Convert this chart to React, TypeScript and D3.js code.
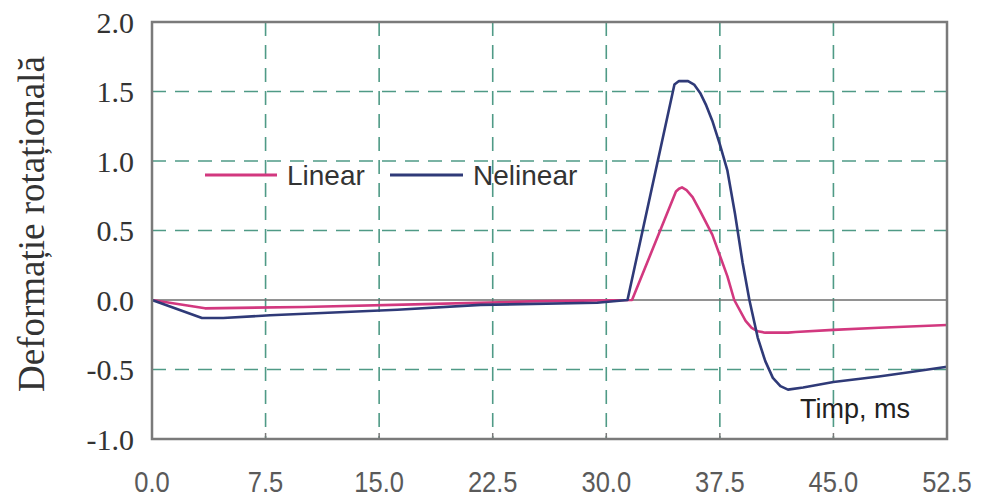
import React from "react";
import * as d3 from "d3";

// time (ms) and rotational strain
const timeLinear = [0, 3.5, 10, 18, 25, 31.7, 34.6, 34.8, 35.0, 35.3, 35.7, 36.2, 37, 38, 38.45, 39.2, 39.6, 40.0, 40.5, 42, 42.5, 45, 48, 52.5];
const valLinear = [0, -0.06, -0.05, -0.03, -0.01, 0, 0.78, 0.8, 0.81, 0.79, 0.74, 0.64, 0.47, 0.17, 0, -0.15, -0.2, -0.225, -0.235, -0.235, -0.23, -0.215, -0.2, -0.18];

const timeNelinear = [0, 3.3, 4.7, 7.8, 16.2, 21.7, 29.4, 31.4, 34.5, 34.8, 35.4, 35.8, 36.2, 36.6, 37, 37.5, 38, 38.5, 39, 39.45, 40, 40.5, 41, 41.5, 42, 43, 45, 48, 50, 52.5];
const valNelinear = [0, -0.13, -0.13, -0.11, -0.07, -0.035, -0.02, 0, 1.55, 1.575, 1.575, 1.55, 1.49, 1.4, 1.29, 1.12, 0.93, 0.62, 0.27, 0, -0.27, -0.44, -0.56, -0.62, -0.645, -0.63, -0.59, -0.55, -0.52, -0.48];

const xTicks = [0, 7.5, 15, 22.5, 30, 37.5, 45, 52.5];
const yTicks = [-1, -0.5, 0, 0.5, 1, 1.5, 2];

const seriesNames = ["Linear", "Nelinear"];
const colors = ["#d2387f", "#2f3a78"];

const W = 981;
const H = 498;
const left = 152, right = 947, top = 22, bottom = 439;

export default function App() {
  const x = d3.scaleLinear().domain([0, 52.5]).range([left, right]);
  const y = d3.scaleLinear().domain([-1, 2]).range([bottom, top]);

  const line = d3
    .line<[number, number]>()
    .x((d) => x(d[0]))
    .y((d) => y(d[1]));

  const linearPts = timeLinear.map((t, i) => [t, valLinear[i]] as [number, number]);
  const nelinearPts = timeNelinear.map((t, i) => [t, valNelinear[i]] as [number, number]);

  const gridColor = "#4f9a86";
  const frameColor = "#7a7a7a";

  return (
    <svg
      width={W}
      height={H}
      style={{ position: "absolute", left: 0, top: 0, background: "#fff" }}
    >
      {/* grid */}
      {xTicks.slice(1, -1).map((t) => (
        <line key={"gx" + t} x1={x(t)} x2={x(t)} y1={top} y2={bottom}
          stroke={gridColor} strokeWidth={1.6} strokeDasharray="14,9" />
      ))}
      {yTicks.slice(1, -1).filter((v) => v !== 0).map((v) => (
        <line key={"gy" + v} x1={left} x2={right} y1={y(v)} y2={y(v)}
          stroke={gridColor} strokeWidth={1.6} strokeDasharray="14,9" />
      ))}
      {/* zero line */}
      <line x1={left} x2={right} y1={y(0)} y2={y(0)} stroke="#6e6e6e" strokeWidth={1.6} />

      {/* bottom tick marks */}
      {xTicks.slice(1, -1).map((t) => (
        <line key={"tk" + t} x1={x(t)} x2={x(t)} y1={bottom} y2={bottom - 6}
          stroke={frameColor} strokeWidth={1.5} />
      ))}

      {/* series */}
      <path d={line(linearPts) || ""} fill="none" stroke={colors[0]} strokeWidth={2.6} strokeLinejoin="round" />
      <path d={line(nelinearPts) || ""} fill="none" stroke={colors[1]} strokeWidth={2.6} strokeLinejoin="round" />

      {/* frame */}
      <rect x={left} y={top} width={right - left} height={bottom - top}
        fill="none" stroke={frameColor} strokeWidth={2.5} />

      {/* y tick labels */}
      {yTicks.map((v) => (
        <text key={"yl" + v} x={134} y={y(v)} dy="0.35em" textAnchor="end"
          fontFamily="'Liberation Serif', 'Times New Roman', serif" fontSize={30} fill="#333">
          {v.toFixed(1)}
        </text>
      ))}

      {/* x tick labels */}
      {xTicks.map((t) => (
        <text key={"xl" + t} x={x(t)} y={492} textAnchor="middle"
          fontFamily="'Liberation Sans', Arial, sans-serif" fontSize={29} fill="#5a5a5a"
          transform={`translate(${x(t)},0) scale(0.88,1) translate(${-x(t)},0)`}>
          {t.toFixed(1)}
        </text>
      ))}

      {/* y axis title */}
      <text transform={`translate(44,${224}) rotate(-90)`} textAnchor="middle"
        fontFamily="'Liberation Serif', 'Times New Roman', serif" fontSize={37} fill="#333">
        Deformație rotațională
      </text>

      {/* legend */}
      <line x1={205} x2={277} y1={175} y2={175} stroke={colors[0]} strokeWidth={3} />
      <text x={287} y={185} fontFamily="'Liberation Sans', Arial, sans-serif" fontSize={28} fill="#333">
        {seriesNames[0]}
      </text>
      <line x1={390} x2={463} y1={175} y2={175} stroke={colors[1]} strokeWidth={3} />
      <text x={473} y={185} fontFamily="'Liberation Sans', Arial, sans-serif" fontSize={28} fill="#333">
        {seriesNames[1]}
      </text>

      {/* x axis title */}
      <text x={800} y={418} fontFamily="'Liberation Sans', Arial, sans-serif" fontSize={27} fill="#222">
        Timp, ms
      </text>
    </svg>
  );
}
